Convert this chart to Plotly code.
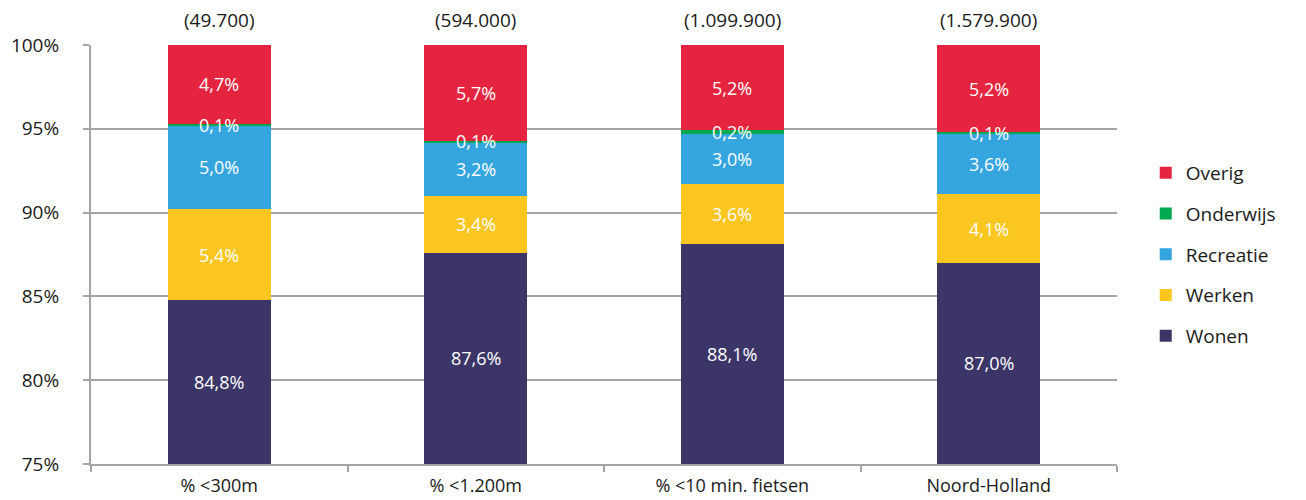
import plotly.graph_objects as go

categories = ["% <300m", "% <1.200m", "% <10 min. fietsen", "Noord-Holland"]
totals = ["(49.700)", "(594.000)", "(1.099.900)", "(1.579.900)"]

wonen = [84.8, 87.6, 88.1, 87.0]
werken = [5.4, 3.4, 3.6, 4.1]
recreatie = [5.0, 3.2, 3.0, 3.6]
onderwijs = [0.1, 0.1, 0.2, 0.1]
overig = [4.7, 5.7, 5.2, 5.2]

series = [
    ("Wonen", wonen, "#3b3568"),
    ("Werken", werken, "#fcc621"),
    ("Recreatie", recreatie, "#35a5e0"),
    ("Onderwijs", onderwijs, "#00a94f"),
    ("Overig", overig, "#e5243f"),
]

Y_MIN, Y_MAX = 75, 100
FONT = "Open Sans"
GRID = "#a3a5a8"
TEXT = "#1a1a1a"

fig = go.Figure()
annotations = []
base = [0.0] * len(categories)
n = len(series)
for i, (name, vals, color) in enumerate(series):
    fig.add_trace(go.Bar(
        x=categories, y=vals, name=name, marker_color=color,
        marker_line_width=0, legendgroup=name, legendrank=n - i, width=0.4,
    ))
    for j, v in enumerate(vals):
        lo = max(base[j], Y_MIN)
        hi = min(base[j] + v, Y_MAX)
        annotations.append(dict(
            x=categories[j], y=(lo + hi) / 2, xref="x", yref="y",
            text=f"{v:.1f}%".replace(".", ","), showarrow=False,
            font=dict(family=FONT, size=18, color="white"),
        ))
        base[j] += v

for j, t in enumerate(totals):
    annotations.append(dict(
        x=categories[j], y=1.0, xref="x", yref="paper", yanchor="middle",
        yshift=25, text=t, showarrow=False,
        font=dict(family=FONT, size=19, color=TEXT),
    ))

fig.update_layout(
    barmode="stack",
    width=1306, height=500,
    margin=dict(l=91, r=189, t=45, b=36),
    paper_bgcolor="white", plot_bgcolor="white",
    font=dict(family=FONT, size=18, color=TEXT),
    annotations=annotations,
    legend=dict(
        traceorder="grouped", tracegroupgap=13,
        x=1.028, xanchor="left", y=0.5, yanchor="middle",
        font=dict(family=FONT, size=19, color=TEXT),
        itemwidth=30,
    ),
)
fig.update_yaxes(
    range=[Y_MIN, Y_MAX], dtick=5, ticksuffix="%",
    showgrid=True, gridcolor=GRID, gridwidth=2,
    showline=True, linecolor=GRID, linewidth=2,
    ticks="outside", ticklen=6, tickcolor=GRID, tickwidth=2,
    ticklabelstandoff=20, tickfont=dict(size=19),
    zeroline=False, automargin=False,
)
fig.update_xaxes(
    showline=True, linecolor=GRID, linewidth=2,
    ticks="outside", ticklen=6, tickcolor=GRID, tickwidth=2,
    tickson="boundaries", ticklabelstandoff=4, tickfont=dict(size=18),
    automargin=False,
)

fig.write_html("out.html")
